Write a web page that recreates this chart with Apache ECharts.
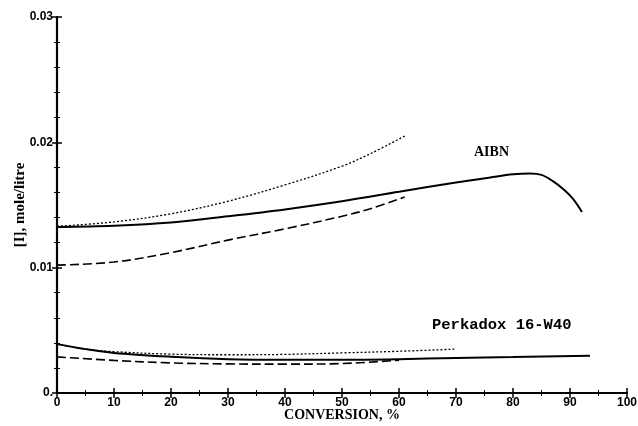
<!DOCTYPE html>
<html><head><meta charset="utf-8">
<script src="https://cdn.jsdelivr.net/npm/echarts@6/dist/echarts.min.js"></script>
<style>html,body{margin:0;padding:0;background:#fff}#c{width:638px;height:426px}</style>
</head><body><div id="c"></div>
<script>
// AIBN curves
const aibnSolidX = [0, 10, 20, 30, 40, 50, 60, 70, 76, 80, 83, 85, 87, 89, 90.5, 92.1];
const aibnSolidY = [0.01325, 0.01335, 0.0136, 0.0141, 0.01465, 0.0153, 0.01605, 0.0168, 0.0172, 0.01745, 0.01752, 0.0174, 0.0169, 0.0162, 0.0155, 0.01444];
const aibnDotX = [0, 10, 20, 30, 40, 50, 55, 61];
const aibnDotY = [0.0133, 0.01365, 0.0143, 0.0153, 0.0166, 0.0181, 0.0191, 0.0205];
const aibnDashX = [0, 10, 20, 30, 40, 50, 55, 61];
const aibnDashY = [0.0102, 0.01045, 0.0112, 0.0122, 0.0131, 0.0141, 0.0147, 0.01564];
// Perkadox 16-W40 curves
const perkSolidX = [0, 5, 10, 20, 30, 40, 50, 60, 70, 80, 93.5];
const perkSolidY = [0.0039, 0.0035, 0.0032, 0.0029, 0.0027, 0.00265, 0.00265, 0.0027, 0.0028, 0.00287, 0.00297];
const perkDotX = [0, 5, 10, 20, 30, 40, 50, 60, 70];
const perkDotY = [0.0039, 0.0035, 0.0033, 0.0031, 0.00305, 0.00308, 0.0032, 0.00333, 0.0035];
const perkDashX = [0, 10, 20, 30, 40, 50, 60];
const perkDashY = [0.00288, 0.0026, 0.0024, 0.00232, 0.0023, 0.00235, 0.00262];
const xTicks = [0, 10, 20, 30, 40, 50, 60, 70, 80, 90, 100];
const yTickLabels = {0: '0.', 0.01: '0.01', 0.02: '0.02', 0.03: '0.03'};
const xTitle = 'CONVERSION, %';
const yTitle = '[I], mole/litre';

const zip = (xs, ys) => xs.map((x, i) => [x, ys[i]]);
const chart = echarts.init(document.getElementById('c'));
const lblFont = {fontFamily: 'Liberation Sans', fontWeight: 'bold', fontSize: 12, color: '#000'};
const axisLine = {show: true, lineStyle: {color: '#000', width: 2.2}};
function line(data, type, width) {
  return {type: 'line', data, smooth: 0.35, showSymbol: false, symbol: 'none',
    lineStyle: {color: '#000', width, type}, xAxisIndex: 0, yAxisIndex: 0, animation: false};
}
chart.setOption({
  animation: false,
  grid: {left: 57, right: 11, top: 17, bottom: 33, containLabel: false, outerBoundsMode: 'none'},
  xAxis: [
    {type: 'value', min: 0, max: 100, interval: 10, position: 'bottom',
      axisLine, axisTick: {inside: true, length: 5, lineStyle: {color: '#000', width: 1.5}},
      minorTick: {show: true, splitNumber: 2, length: 3, lineStyle: {color: '#000'}},
      splitLine: {show: false},
      axisLabel: Object.assign({margin: 4, formatter: v => xTicks.includes(v) ? String(v) : ''}, lblFont)},
    {type: 'value', min: 0, max: 100, interval: 10, position: 'top',
      axisLine, axisTick: {inside: true, length: 5, lineStyle: {color: '#000', width: 1.5}},
      minorTick: {show: true, splitNumber: 2, length: 3, lineStyle: {color: '#000'}},
      splitLine: {show: false}, axisLabel: {show: false}}
  ],
  yAxis: [
    {type: 'value', min: 0, max: 0.03, interval: 0.01, position: 'left',
      axisLine, axisTick: {inside: true, length: 5, lineStyle: {color: '#000', width: 1.5}},
      minorTick: {show: true, splitNumber: 5, length: 3, lineStyle: {color: '#000'}},
      splitLine: {show: false},
      axisLabel: Object.assign({margin: 4, formatter: v => yTickLabels[Math.round(v * 100) / 100] || ''}, lblFont)},
    {type: 'value', min: 0, max: 0.03, interval: 0.01, position: 'right',
      axisLine: {show: true, lineStyle: {color: '#000', width: 1.5}},
      axisTick: {inside: true, length: 5, lineStyle: {color: '#000', width: 1.5}},
      minorTick: {show: true, splitNumber: 5, length: 3, lineStyle: {color: '#000'}},
      splitLine: {show: false}, axisLabel: {show: false}}
  ],
  series: [
    line(zip(aibnSolidX, aibnSolidY), 'solid', 2),
    line(zip(aibnDotX, aibnDotY), [2, 2], 1.3),
    line(zip(aibnDashX, aibnDashY), [9, 4], 1.6),
    line(zip(perkSolidX, perkSolidY), 'solid', 2),
    line(zip(perkDotX, perkDotY), [2, 2], 1.3),
    line(zip(perkDashX, perkDashY), [9, 4], 1.6)
  ],
  graphic: [
    {type: 'text', x: 342, y: 415, style: {text: xTitle, fill: '#000', font: 'bold 14px "Liberation Serif"', align: 'center', verticalAlign: 'middle'}},
    {type: 'text', x: 20, y: 205, rotation: Math.PI / 2, style: {text: yTitle, fill: '#000', font: 'bold 15px "Liberation Serif"', align: 'center', verticalAlign: 'middle'}},
    {type: 'text', left: 474, top: 145, style: {text: 'AIBN', fill: '#000', font: 'bold 14px "Liberation Serif"'}},
    {type: 'text', left: 432, top: 317, style: {text: 'Perkadox 16-W40', fill: '#000', font: 'bold 15.5px "Liberation Mono"'}}
  ]
});
</script></body></html>
